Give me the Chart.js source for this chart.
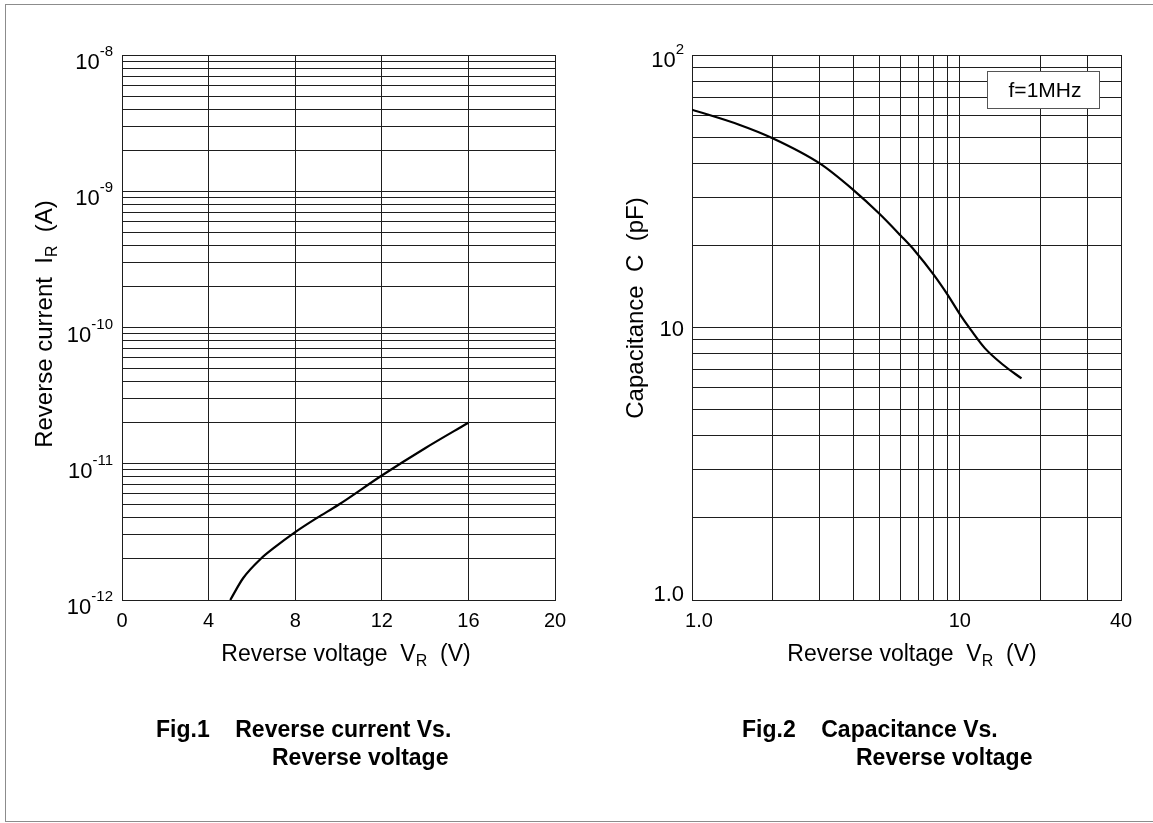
<!DOCTYPE html>
<html>
<head>
<meta charset="utf-8">
<script src="https://cdn.jsdelivr.net/npm/chart.js@4.4.1/dist/chart.umd.min.js"></script>
<style>
  html, body { margin: 0; padding: 0; background: #fff; }
  #page { position: relative; width: 1153px; height: 823px; overflow: hidden; }
  #frame { position: absolute; left: 5px; top: 4px; width: 1170px; height: 818px; border: 1px solid #8c8c8c; box-sizing: border-box; }
  canvas { position: absolute; left: 0; top: 0; }
  .cap { position: absolute; font-family: "Liberation Sans", Arial, sans-serif; font-weight: bold; font-size: 23px; line-height: 28px; white-space: pre; color: #000; }
</style>
</head>
<body>
<div id="page">
  <div id="frame"></div>
  <canvas id="fig1" width="1153" height="823"></canvas>
  <canvas id="fig2" width="1153" height="823"></canvas>
  <div class="cap" style="left:156px; top:715px">Fig.1    Reverse current Vs.</div>
  <div class="cap" style="left:272px; top:743px">Reverse voltage</div>
  <div class="cap" style="left:742px; top:715px">Fig.2    Capacitance Vs.</div>
  <div class="cap" style="left:856px; top:743px">Reverse voltage</div>
</div>
<script>
// Fig.1 reverse current vs reverse voltage
const irVoltage = [5.0, 5.6, 6.4, 7.0, 8.0, 9.0, 10.0, 12.0, 14.0, 16.0];
const irCurrent = [1.0e-12, 1.45e-12, 2.0e-12, 2.4e-12, 3.15e-12, 4.0e-12, 5.0e-12, 8.2e-12, 1.3e-11, 2.0e-11];

// Fig.2 capacitance vs reverse voltage (f = 1MHz)
const capVoltage = [1.0, 1.5, 2.0, 3.0, 4.0, 5.0, 6.0, 6.8, 8.0, 9.0, 10.0, 11.0, 12.4, 14.5, 17.0];
const capValue = [63, 55.5, 49.5, 40, 32, 26.2, 21.8, 19.1, 15.6, 13.2, 11.2, 9.8, 8.4, 7.3, 6.5];

// tick labels
const fig1XTicks = [0, 4, 8, 12, 16, 20];
const fig1YExponents = [-8, -9, -10, -11, -12];
const fig2XTicks = [1, 10, 40];
const fig2XTickLabels = ['1.0', '10', '40'];
const fig2YTicks = [1, 10, 100];
const fig2YTickBase = ['1.0', '10', '10'];
const fig2YTickSup = ['', '', '2'];

const FONT = '"Liberation Sans", Arial, sans-serif';
const GRID = '#1e1e1e';

// log grid lines: 1..9 x 10^e for each decade
function logGrid(minExp, maxExp) {
  const out = [];
  for (let e = minExp; e < maxExp; e++) {
    for (let m = 1; m <= 9; m++) out.push(m * Math.pow(10, e));
  }
  out.push(Math.pow(10, maxExp));
  return out;
}

// text made of pieces [text, size, dy]
function drawRich(ctx, parts, x, y, align) {
  let w = 0;
  parts.forEach(p => { ctx.font = p[1] + 'px ' + FONT; w += ctx.measureText(p[0]).width; });
  let cx = align === 'right' ? x - w : (align === 'center' ? x - w / 2 : x);
  ctx.textAlign = 'left';
  ctx.textBaseline = 'alphabetic';
  parts.forEach(p => {
    ctx.font = p[1] + 'px ' + FONT;
    ctx.fillText(p[0], cx, y + (p[2] || 0));
    cx += ctx.measureText(p[0]).width;
  });
}

const fig1Text = {
  id: 'fig1Text',
  afterDraw(chart) {
    const { ctx, chartArea: a } = chart;
    const x = chart.scales.x, y = chart.scales.y;
    ctx.save();
    ctx.fillStyle = '#000';
    fig1XTicks.forEach(v => {
      drawRich(ctx, [[String(v), 20]], x.getPixelForValue(v), a.bottom + 27, 'center');
    });
    fig1YExponents.forEach(e => {
      drawRich(ctx, [['10', 22], [String(e), 15, -13]], a.left - 9, y.getPixelForValue(Math.pow(10, e)) + 14, 'right');
    });
    drawRich(ctx, [['Reverse voltage  V', 23], ['R', 16, 5], ['  (V)', 23]], 346, a.bottom + 61, 'center');
    ctx.translate(52, 324);
    ctx.rotate(-Math.PI / 2);
    drawRich(ctx, [['Reverse current  I', 24], ['R', 16, 5], ['  (A)', 24]], 0, 0, 'center');
    ctx.restore();
  }
};

const fig2Text = {
  id: 'fig2Text',
  afterDraw(chart) {
    const { ctx, chartArea: a } = chart;
    const x = chart.scales.x, y = chart.scales.y;
    ctx.save();
    ctx.fillStyle = '#000';
    const xShift = [7, 0, 0];
    fig2XTicks.forEach((v, i) => {
      drawRich(ctx, [[fig2XTickLabels[i], 20]], x.getPixelForValue(v) + xShift[i], a.bottom + 27, 'center');
    });
    const yShift = [1, 8, 12];
    fig2YTicks.forEach((v, i) => {
      const parts = [[fig2YTickBase[i], 22]];
      if (fig2YTickSup[i]) parts.push([fig2YTickSup[i], 15, -13]);
      drawRich(ctx, parts, a.left - 8, y.getPixelForValue(v) + yShift[i], 'right');
    });
    drawRich(ctx, [['Reverse voltage  V', 23], ['R', 16, 5], ['  (V)', 23]], 912, a.bottom + 61, 'center');

    // f=1MHz box
    const bx = a.right - 134, by = a.top + 16, bw = 112, bh = 37;
    ctx.fillStyle = '#fff';
    ctx.fillRect(bx, by, bw, bh);
    ctx.strokeStyle = '#555';
    ctx.lineWidth = 1;
    ctx.strokeRect(bx + 0.5, by + 0.5, bw, bh);
    ctx.fillStyle = '#000';
    drawRich(ctx, [['f=1MHz', 21]], bx + bw / 2 + 2, by + 26, 'center');

    ctx.translate(643, 308);
    ctx.rotate(-Math.PI / 2);
    drawRich(ctx, [['Capacitance  C  (pF)', 24]], 0, 0, 'center');
    ctx.restore();
  }
};

function axis(type, min, max, grid) {
  return {
    type: type,
    min: min,
    max: max,
    afterBuildTicks: scale => { scale.ticks = grid.map(v => ({ value: v })); },
    ticks: { display: false },
    grid: { color: GRID, lineWidth: 1, drawTicks: false },
    border: { color: GRID, width: 1 }
  };
}

function curve(xs, ys) {
  return {
    data: xs.map((v, i) => ({ x: v, y: ys[i] })),
    borderColor: '#000',
    borderWidth: 2.2,
    pointRadius: 0,
    fill: false,
    tension: 0.4,
    cubicInterpolationMode: 'monotone'
  };
}

new Chart(document.getElementById('fig1'), {
  type: 'line',
  data: { datasets: [curve(irVoltage, irCurrent)] },
  options: {
    responsive: false,
    animation: false,
    events: [],
    layout: { padding: { left: 122, right: 1153 - 555, top: 55, bottom: 823 - 600 } },
    plugins: { legend: { display: false }, tooltip: { enabled: false } },
    scales: {
      x: axis('linear', 0, 20, fig1XTicks),
      y: axis('logarithmic', 1e-12, 1e-8, logGrid(-12, -8))
    }
  },
  plugins: [fig1Text]
});

new Chart(document.getElementById('fig2'), {
  type: 'line',
  data: { datasets: [curve(capVoltage, capValue)] },
  options: {
    responsive: false,
    animation: false,
    events: [],
    layout: { padding: { left: 692, right: 1153 - 1121, top: 55, bottom: 823 - 600 } },
    plugins: { legend: { display: false }, tooltip: { enabled: false } },
    scales: {
      x: axis('logarithmic', 1, 40, logGrid(0, 2).filter(v => v <= 40)),
      y: axis('logarithmic', 1, 100, logGrid(0, 2))
    }
  },
  plugins: [fig2Text]
});
</script>
</body>
</html>
